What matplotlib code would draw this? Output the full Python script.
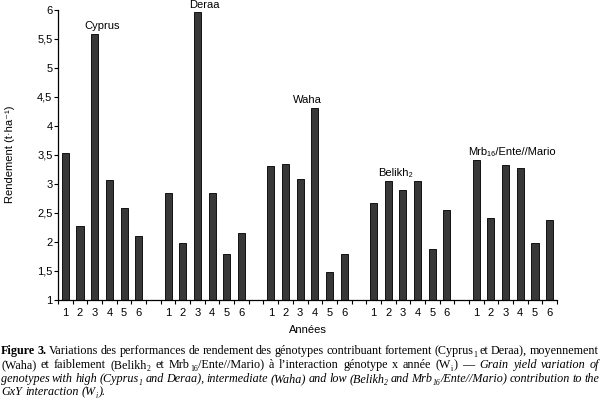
import matplotlib
matplotlib.use('Agg')
import matplotlib.pyplot as plt
import numpy as np

genotypes = ['Cyprus', 'Deraa', 'Waha', 'Belikh₂', 'Mrb₁₆/Ente//Mario']
years = ['1', '2', '3', '4', '5', '6']
cyprus = [3.53, 2.27, 5.58, 3.06, 2.57, 2.09]
deraa = [2.83, 1.98, 5.95, 2.83, 1.78, 2.15]
waha = [3.31, 3.33, 3.08, 4.31, 1.47, 1.78]
belikh2 = [2.66, 3.05, 2.88, 3.05, 1.87, 2.54]
mrb16 = [3.41, 2.40, 3.32, 3.27, 1.98, 2.37]
yticks = [1, 1.5, 2, 2.5, 3, 3.5, 4, 4.5, 5, 5.5, 6]

series = [cyprus, deraa, waha, belikh2, mrb16]
label_offsets = [2.5, 2.5, 2.5, 1.5, 2.4]

SANS = ['Liberation Sans', 'DejaVu Sans']
SERIF = ['Liberation Serif', 'DejaVu Serif']

fig = plt.figure(figsize=(6, 4), dpi=100)
ax = fig.add_axes([58/600, 1-299.5/400, (557-58)/600, (299.5-9.5)/400])

nslot = 7
positions = []
heights = []
for g, vals in enumerate(series):
    for i, v in enumerate(vals):
        positions.append(g*nslot + i)
        heights.append(v)
positions = np.array(positions)
ax.bar(positions, np.array(heights) - 1, bottom=1, width=0.48,
       color='#383838', edgecolor='#111111', linewidth=0.7)

for g, (name, vals) in enumerate(zip(genotypes, series)):
    ax.text(g*nslot + label_offsets[g], max(vals) + 0.08, name, ha='center', va='baseline',
            fontsize=8, family=SANS, clip_on=False)

ax.set_xlim(-0.5, len(series)*nslot - 1 - 0.5)
ax.set_ylim(1, 6)
ax.set_yticks(yticks)
ax.set_yticklabels([('%g' % t).replace('.', ',') for t in yticks], family=SANS, fontsize=8)
ax.set_xticks(positions)
ax.set_xticklabels(years * len(series), family=SANS, fontsize=8)
ax.set_xticks(np.arange(-0.5, len(series)*nslot - 1, 1.0), minor=True)
ax.tick_params(axis='x', which='major', length=0, pad=6)
ax.tick_params(axis='x', which='minor', length=3, width=0.8)
ax.tick_params(axis='y', length=3, width=0.8, pad=1)
for s in ['top', 'right']:
    ax.spines[s].set_visible(False)
for s in ['left', 'bottom']:
    ax.spines[s].set_linewidth(0.9)

ax.set_ylabel('Rendement (t·ha⁻¹)', family=SANS, fontsize=8, labelpad=16)
ax.set_xlabel('Années', family=SANS, fontsize=8, labelpad=5)

# caption
renderer = fig.canvas.get_renderer()
SIZE = 8.7
SUB = 5.6

def style_kw(st):
    kw = dict(family=SERIF, fontsize=SIZE)
    if 'b' in st:
        kw['weight'] = 'bold'
    if 'i' in st:
        kw['style'] = 'italic'
    if 's' in st:
        kw['fontsize'] = SUB
    return kw

def width_of(txt, st):
    t = fig.text(0, 0, txt, **style_kw(st))
    w = t.get_window_extent(renderer).width
    t.remove()
    return w

def parse(line, st):
    words = []
    for w in line.split(' '):
        parts = []
        for seg in w.split('|'):
            if seg.startswith('_'):
                parts.append((seg[1:], st + 's'))
            elif seg:
                parts.append((seg, st))
        words.append(parts)
    return words

lines = [
    ([('b', 'Figure 3.'), ('r', 'Variations des performances de rendement des génotypes contribuant fortement (Cyprus|_1 et Deraa), moyennement')], True),
    ([('r', '(Waha) et faiblement (Belikh|_2 et Mrb|_16|/Ente//Mario) à l\u2019interaction génotype x année (W|_i|) —'), ('i', 'Grain yield variation of')], True),
    ([('i', 'genotypes with high (Cyprus|_1 and Deraa), intermediate (Waha) and low (Belikh|_2 and Mrb|_16|/Ente//Mario) contribution to the')], True),
    ([('i', 'GxY interaction (W|_i|).')], False),
]
baselines = [354, 368, 382, 395]
X0, X1 = 1, 598
for (chunks, justify), yb in zip(lines, baselines):
    words = []
    for st, txt in chunks:
        words += parse(txt, st)
    widths = [[width_of(t, s) for t, s in w] for w in words]
    total = sum(sum(ws) for ws in widths)
    space = width_of('a a', 'r') - 2*width_of('a', 'r')
    if justify:
        gap = max((X1 - X0 - total) / (len(words) - 1), 1.0)
    else:
        gap = space
    x = X0
    for w, ws in zip(words, widths):
        for (t, s), wd in zip(w, ws):
            yy = yb + (2.6 if 's' in s else 0)
            fig.text(x/600, 1 - yy/400, t, va='baseline', ha='left', **style_kw(s))
            x += wd + (0.5 if 's' in s else 0)
        x += gap

fig.savefig('out.png', dpi=100)
